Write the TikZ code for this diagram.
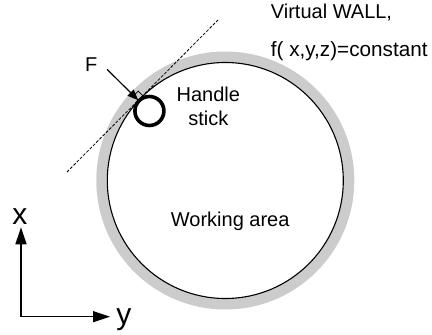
\documentclass[tikz,border=0pt]{standalone}
\usepackage{fontspec}
\setmainfont{Liberation Sans}
\usetikzlibrary{arrows.meta}
\begin{document}
\begin{tikzpicture}[x=1pt,y=-1pt,
  lbl/.style={inner sep=0pt, anchor=base west, font=\fontsize{20}{24}\selectfont},
  axlbl/.style={inner sep=0pt, font=\fontsize{30}{36}\selectfont},
  ring/.style={black!20, line width=11pt},
  wall/.style={line width=1.1pt},
  tangent/.style={line width=0.8pt, dash pattern=on 3pt off 1.6pt},
  force/.style={line width=1.2pt, -{Triangle[length=11pt,width=8.5pt]}},
  axisline/.style={line width=1.5pt, {Triangle[length=17pt,width=11pt]}-{Triangle[length=17pt,width=11pt]}},
]
\useasboundingbox (0,0) rectangle (432,335);
% working area and virtual wall
\coordinate (c) at (225.3,180.5);
\draw[ring] (c) circle[radius=123.5pt];
\draw[wall] (c) circle[radius=118pt];
% handle stick
\node[circle, draw, line width=3.6pt, minimum size=29pt, inner sep=0pt] (handle) at (149.4,111) {};
% tangent line
\coordinate (t1) at (67,172);
\coordinate (t2) at (218,20);
\draw[tangent] (t1) -- (t2);
% contact point, force arrow and right-angle mark
\coordinate (p) at (138.3,100.3);
\coordinate (fs) at (107.1,69.3);
\draw[force] (fs) -- (p);
\draw[line width=0.7pt] (p) -- ++(4.6,-4.6) coordinate (q1) -- ++(-4.6,-4.6) coordinate (q2) -- ++(-4.6,4.6);
% labels
\node[lbl] (vw) at (270.7,18.5) {Virtual WALL,};
\node[lbl, font=\fontsize{20.7}{24}\selectfont] (fx) at (270.7,56) {f( x,y,z)=constant};
\node[lbl] (F) at (85,71.7) {F};
\node[lbl, anchor=base] (hd) at (208.3,101.7) {Handle};
\node[lbl, anchor=base] (st) at (208.3,125) {stick};
\node[lbl] (wa) at (170.7,226) {Working area};
% axes
\coordinate (xt) at (21,227.3);
\coordinate (o) at (21,316.7);
\coordinate (yt) at (110,316.7);
\draw[axisline] (xt) -- (o) -- (yt);
\node[axlbl, anchor=base] (xl) at (20,224) {x};
\node[axlbl, anchor=base west] (yl) at (116.2,324) {y};
\end{tikzpicture}
\end{document}
